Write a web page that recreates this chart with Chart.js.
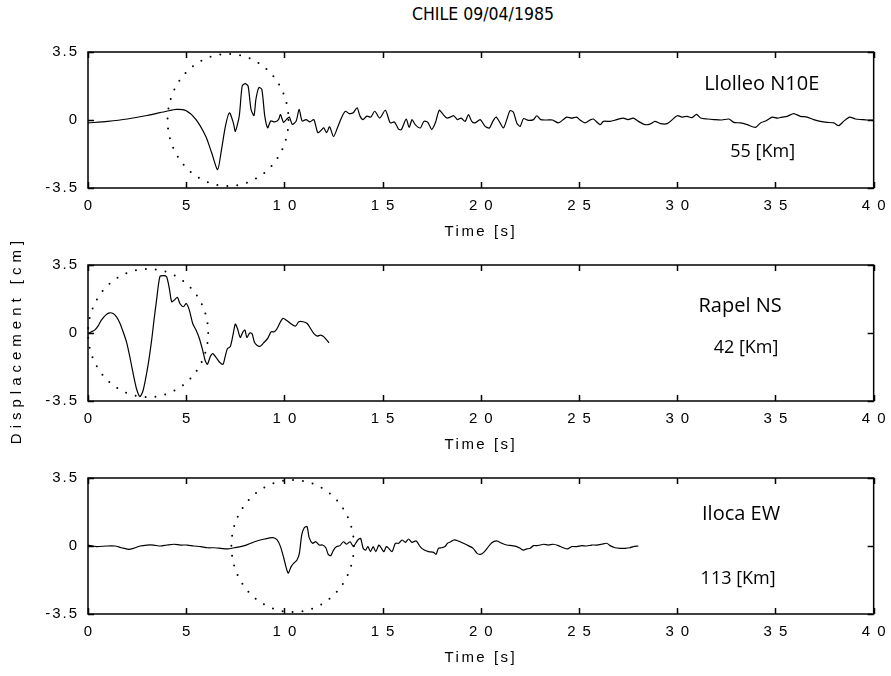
<!DOCTYPE html>
<html>
<head>
<meta charset="utf-8">
<script src="https://cdn.jsdelivr.net/npm/chart.js@4.4.1/dist/chart.umd.min.js"></script>
<style>
  html, body { margin: 0; padding: 0; background: #fff; overflow: hidden; }
  #wrap { position: relative; width: 891px; height: 676px; overflow: hidden; }
  #title { position: absolute; top: 4px; left: 0; width: 966px; text-align: center;
           font: 17.5px "Liberation Sans Narrow", "DejaVu Sans Condensed", "Open Sans", sans-serif; color: #000; }
  canvas { position: absolute; left: 0; }
</style>
</head>
<body>
<div id="wrap">
  <div id="title">CHILE 09/04/1985</div>
  <canvas id="c1" width="891" height="221" style="top:32px"></canvas>
  <canvas id="c2" width="891" height="243" style="top:223px"></canvas>
  <canvas id="c3" width="891" height="221" style="top:458px"></canvas>
</div>
<script>
'use strict';

// axes
const xMin = 0, xMax = 40, xStep = 5;
const yTicks = [-3.5, 0, 3.5];
const yTickLabels = ['-3.5', '0', '3.5'];

// Llolleo N10E, 55 km
const llolleoT = [
  0, 1, 2, 3, 4, 4.5, 5, 5.5, 6, 6.3,
  6.6, 6.8, 7.0, 7.2, 7.4, 7.5, 7.7, 7.85, 8.0, 8.15,
  8.3, 8.45, 8.55, 8.7, 8.85, 9.0, 9.15, 9.3, 9.5, 9.7,
  9.8, 9.95, 10.1, 10.25, 10.4, 10.6, 10.75, 10.9, 11.1, 11.3,
  11.5, 11.7, 11.9, 12.0, 12.15, 12.3, 12.5, 12.7, 12.9, 13.1,
  13.3, 13.5, 13.7, 13.85, 14.0, 14.2, 14.4, 14.6, 14.85, 15.14,
  15.39, 15.6, 15.81, 15.95, 16.2, 16.35, 16.5, 16.66, 16.92, 17.1,
  17.3, 17.5, 17.7, 17.88, 18.07, 18.27, 18.45, 18.62, 18.81, 19.0,
  19.2, 19.37, 19.54, 19.71, 19.97, 20.22, 20.44, 20.61, 20.78, 20.98,
  21.15, 21.32, 21.49, 21.66, 21.83, 22.0, 22.17, 22.42, 22.68, 22.85,
  23.05, 23.36, 23.65, 23.95, 24.2, 24.37, 24.63, 24.88, 25.05, 25.3,
  25.56, 25.73, 26.07, 26.24, 26.58, 26.92, 27.25, 27.5, 27.76, 28.02,
  28.36, 28.64, 28.86, 29.15, 29.49, 29.75, 30.0, 30.25, 30.5, 30.75,
  30.98, 31.19, 31.53, 31.86, 32.27, 32.63, 32.88, 33.22, 33.56, 33.98,
  34.24, 34.5, 34.83, 35.1, 35.34, 35.6, 35.93, 36.27, 36.61, 36.95,
  37.29, 37.63, 37.97, 38.22, 38.47, 38.78, 39.07, 39.41, 39.66, 40
];
const llolleoV = [
  -0.15, -0.07, 0.05, 0.23, 0.45, 0.55, 0.48, 0.02, -0.85, -1.7,
  -2.55, -1.5, -0.3, 0.37, -0.15, -0.58, 0.2, 1.75, 1.87, 1.75,
  0.55, 0.23, 1.07, 1.67, 1.58, 0.2, -0.4, -0.05, -0.1, 0.02,
  0.28, -0.12, 0.02, 0.15, -0.22, -0.05, 0.55, -0.05, 0.02, -0.1,
  0.02, -0.65, -0.5, -0.4, -0.65, -0.35, -0.85, -0.4, 0.1, 0.45,
  0.33, 0.37, 0.63, 0.2, 0.02, 0.2, 0.15, 0.45, 0.1, 0.5,
  -0.15, -0.1, -0.47, -0.5, 0.05, -0.38, 0.02, -0.24, -0.41, -0.07,
  -0.12, -0.48, -0.1, 0.5, 0.3, 0.1, 0.15, 0.22, 0.02, 0.1,
  -0.07, 0.28, -0.07, -0.15, 0.02, -0.33, -0.41, -0.07, 0.15, -0.15,
  -0.41, 0.02, 0.48, 0.4, -0.15, -0.33, 0.07, -0.02, 0.02, 0.22,
  0.02, 0, 0, -0.15, 0.02, 0.15, 0.1, 0.15, 0, -0.15,
  0, 0.05, -0.24, -0.07, -0.07, 0.02, 0.1, 0.02, 0.1, -0.07,
  -0.24, -0.2, -0.07, -0.19, -0.19, 0.02, 0.22, 0.15, 0.19, 0.12,
  0.29, 0.1, 0.05, 0.02, 0, 0.05, -0.12, -0.15, -0.24, -0.38,
  -0.15, -0.05, 0.15, 0.1, 0.15, 0.19, 0.33, 0.19, 0.15, 0.02,
  -0.07, -0.12, -0.15, -0.29, -0.07, 0.15, 0.05, 0.02, 0, 0
];

// Rapel NS, 42 km
const rapelT = [
  0, 0.17, 0.34, 0.51, 0.68, 0.94, 1.11, 1.28, 1.45, 1.62,
  1.79, 1.96, 2.13, 2.3, 2.47, 2.64, 2.78, 2.9, 3.07, 3.24,
  3.36, 3.49, 3.66, 3.83, 4.0, 4.14, 4.26, 4.4, 4.55, 4.68,
  4.86, 5.0, 5.16, 5.33, 5.5, 5.67, 5.84, 5.96, 6.08, 6.22,
  6.35, 6.52, 6.69, 6.87, 6.98, 7.1, 7.24, 7.38, 7.5, 7.61,
  7.75, 7.89, 7.99, 8.09, 8.23, 8.35, 8.47, 8.6, 8.77, 8.94,
  9.15, 9.32, 9.49, 9.63, 9.8, 9.93, 10.1, 10.31, 10.56, 10.73,
  10.95, 11.16, 11.33, 11.5, 11.67, 11.84, 12.01, 12.27
];
const rapelV = [
  -0.03, 0.06, 0.15, 0.35, 0.66, 0.96, 1.04, 1.0, 0.83, 0.52,
  0.06, -0.46, -1.23, -2.09, -2.87, -3.27, -3.04, -2.53, -1.58, -0.37,
  0.66, 1.69, 2.9, 2.95, 2.9, 2.3, 1.61, 1.7, 1.84, 1.52,
  1.35, 1.52, 1.18, 0.49, 0.15, -0.28, -0.89, -1.4, -1.61, -1.23,
  -1.06, -1.26, -1.49, -1.61, -1.23, -0.8, -0.71, -0.11, 0.46, 0.23,
  -0.23, 0.06, 0.15, -0.23, 0, -0.03, -0.46, -0.63, -0.68, -0.51,
  -0.28, 0.06, 0.06, 0.23, 0.58, 0.75, 0.66, 0.49, 0.35, 0.58,
  0.58, 0.49, 0.23, -0.03, -0.16, -0.11, -0.2, -0.51
];

// Iloca EW, 113 km
const ilocaT = [
  0, 0.43, 0.94, 1.37, 1.71, 2.05, 2.31, 2.65, 3.0, 3.34,
  3.68, 4.02, 4.37, 4.71, 5.05, 5.39, 5.74, 6.08, 6.42, 6.76,
  7.11, 7.45, 7.98, 8.48, 8.99, 9.41, 9.63, 9.8, 9.97, 10.1,
  10.2, 10.34, 10.47, 10.64, 10.76, 10.88, 11.01, 11.15, 11.26, 11.43,
  11.6, 11.77, 11.94, 12.11, 12.23, 12.36, 12.5, 12.66, 12.83, 13.0,
  13.17, 13.34, 13.51, 13.63, 13.74, 13.88, 14.01, 14.13, 14.25, 14.38,
  14.52, 14.65, 14.81, 14.92, 15.06, 15.19, 15.31, 15.48, 15.65, 15.82,
  15.99, 16.16, 16.32, 16.49, 16.71, 16.91, 17.12, 17.34, 17.59, 17.72,
  17.84, 18.01, 18.18, 18.3, 18.47, 18.63, 18.85, 19.11, 19.36, 19.61,
  19.81, 19.98, 20.15, 20.32, 20.56, 20.81, 21.07, 21.32, 21.58, 21.83,
  22.0, 22.17, 22.34, 22.51, 22.68, 22.85, 23.02, 23.19, 23.44, 23.69,
  23.95, 24.2, 24.41, 24.63, 24.88, 25.14, 25.39, 25.64, 25.9, 26.15,
  26.41, 26.58, 26.83, 27.08, 27.34, 27.59, 27.76, 28.02
];
const ilocaV = [
  0.05, -0.03, 0, 0, -0.09, -0.17, -0.12, 0, 0.05, 0.05,
  0, 0.05, 0.09, 0.05, 0.05, 0, -0.03, -0.09, -0.09, -0.12,
  -0.15, -0.09, 0.02, 0.22, 0.36, 0.43, 0.31, -0.03, -0.63, -1.15,
  -1.4, -1.06, -0.89, -0.72, -0.38, 0.56, 0.94, 1.0, 0.43, 0.14,
  0.22, 0.05, 0.05, -0.09, -0.43, -0.5, -0.21, -0.03, 0.02, 0.22,
  0.09, 0.22, -0.03, 0.14, 0.31, 0.39, -0.12, -0.21, -0.03, -0.29,
  -0.03, -0.29, 0.05, -0.09, -0.29, -0.03, -0.12, -0.29, 0.14, 0.14,
  0.31, 0.19, 0.36, 0.19, 0.26, -0.03, -0.21, -0.29, -0.33, -0.43,
  -0.12, -0.09, -0.03, 0.14, 0.22, 0.31, 0.26, 0.14, 0.02, -0.12,
  -0.38, -0.43, -0.33, -0.12, 0.17, 0.26, 0.14, 0.05, 0.02, -0.03,
  -0.12, -0.21, -0.15, -0.12, 0.02, 0.02, 0.05, 0.09, 0.05, 0.09,
  0.02, -0.09, -0.15, -0.03, -0.03, 0.02, 0, 0.05, 0.05, 0.09,
  0.14, 0.02, -0.09, -0.12, -0.12, -0.09, -0.03, 0
];

const stations = ['Llolleo N10E', 'Rapel NS', 'Iloca EW'];
const distances = ['55 [Km]', '42 [Km]', '113 [Km]'];
// dotted ring: centre time, radius in s, radius in cm
const ringT = [7.13, 3.06, 10.42];
const ringRt = [3.08, 3.06, 3.12];
const ringRv = [3.4, 3.3, 3.4];
// where the station / distance texts sit, in data units
const nameAt = [[34.3, 1.83], [33.2, 1.38], [33.25, 1.62]];
const distAt = [[34.35, -1.62], [33.5, -0.78], [33.1, -1.67]];

Chart.defaults.font.family = '"Liberation Sans", Arial, sans-serif';
Chart.defaults.color = '#000';

// the old plot has wide gaps between glyphs; mimic that per scale
function spaced(s, labelGap, titleGap, titleShift) {
  if (s._spaced) return;
  s._spaced = true;
  const dl = s.drawLabels.bind(s);
  const dt = s.drawTitle.bind(s);
  s.drawLabels = area => {
    s.ctx.save();
    s.ctx.letterSpacing = labelGap + 'px';
    if (s.isHorizontal()) s.ctx.translate(labelGap / 2, 0);
    dl(area);
    s.ctx.restore();
  };
  s.drawTitle = () => {
    s.ctx.save();
    s.ctx.letterSpacing = titleGap + 'px';
    s.ctx.translate(0, titleShift);
    dt();
    s.ctx.restore();
  };
}

const seismo = {
  id: 'seismo',
  afterDraw(chart, args, o) {
    const {ctx, chartArea: a, scales: {x, y}} = chart;
    const i = o.idx;
    ctx.save();
    ctx.strokeStyle = '#000';
    ctx.lineWidth = 1.5;
    ctx.strokeRect(a.left, a.top, a.width, a.height);
    ctx.beginPath();
    x.ticks.forEach(t => {
      const px = Math.round(x.getPixelForValue(t.value)) + 0.5;
      ctx.moveTo(px, a.top); ctx.lineTo(px, a.top + 6);
      ctx.moveTo(px, a.bottom); ctx.lineTo(px, a.bottom - 6);
    });
    y.ticks.forEach(t => {
      const py = Math.round(y.getPixelForValue(t.value)) + 0.5;
      ctx.moveTo(a.left, py); ctx.lineTo(a.left + 6, py);
      ctx.moveTo(a.right, py); ctx.lineTo(a.right - 6, py);
    });
    ctx.stroke();

    const cx = x.getPixelForValue(ringT[i]);
    const cy = y.getPixelForValue(0);
    const rx = x.getPixelForValue(ringT[i] + ringRt[i]) - cx;
    const ry = cy - y.getPixelForValue(ringRv[i]);
    ctx.setLineDash([0, 10]);
    ctx.lineCap = 'round';
    ctx.lineWidth = 2;
    ctx.beginPath();
    ctx.ellipse(cx, cy, rx, ry, 0, 0, Math.PI * 2);
    ctx.stroke();
    ctx.setLineDash([]);

    ctx.fillStyle = '#000';
    ctx.textAlign = 'center';
    ctx.textBaseline = 'middle';
    ctx.font = '20px "Open Sans"';
    ctx.fillText(stations[i], x.getPixelForValue(nameAt[i][0]), y.getPixelForValue(nameAt[i][1]));
    ctx.font = '18px "Open Sans"';
    ctx.fillText(distances[i], x.getPixelForValue(distAt[i][0]), y.getPixelForValue(distAt[i][1]));
    ctx.restore();
  }
};

function makePanel(id, idx, ts, vs, showYTitle, padTop) {
  const pts = ts.map((t, k) => ({x: t, y: vs[k]}));
  new Chart(document.getElementById(id), {
    type: 'line',
    data: {datasets: [{data: pts, borderColor: '#000', borderWidth: 1.2, pointRadius: 0, tension: 0.25, fill: false}]},
    options: {
      responsive: false,
      animation: false,
      layout: {padding: {top: padTop, right: 17, left: 0, bottom: 0}},
      plugins: {legend: {display: false}, tooltip: {enabled: false}, seismo: {idx}},
      scales: {
        x: {
          type: 'linear', min: xMin, max: xMax,
          grid: {display: false, drawTicks: false}, border: {display: false},
          ticks: {stepSize: xStep, padding: 9, maxRotation: 0, autoSkip: false, font: {size: 15}},
          title: {display: true, text: 'Time [s]', font: {size: 15}, padding: {top: 0, bottom: 12}},
          afterFit: s => { s.height = 65; spaced(s, 7, 2.5, 0); }
        },
        y: {
          min: yTicks[0], max: yTicks[yTicks.length - 1],
          grid: {display: false, drawTicks: false}, border: {display: false},
          afterBuildTicks: s => { s.ticks = yTicks.map(v => ({value: v})); },
          ticks: {padding: 9, font: {size: 15}, callback: (v, k) => yTickLabels[k]},
          title: {display: showYTitle, text: 'Displacement [cm]', font: {size: 15}, padding: {top: 8, bottom: 0}},
          afterFit: s => { s.width = 88; spaced(s, 2, 5, 7); }
        }
      }
    },
    plugins: [seismo]
  });
}

makePanel('c1', 0, llolleoT, llolleoV, false, 20);
makePanel('c2', 1, rapelT, rapelV, true, 42);
makePanel('c3', 2, ilocaT, ilocaV, false, 20);
</script>
</body>
</html>
